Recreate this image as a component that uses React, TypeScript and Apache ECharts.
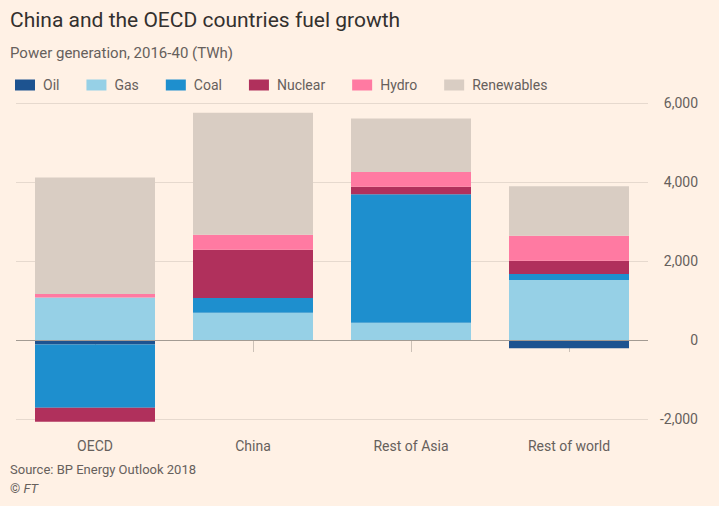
import React, { useEffect, useRef } from "react";
import * as echarts from "echarts";

const categories = ["OECD", "China", "Rest of Asia", "Rest of world"];
const seriesNames = ["Oil", "Gas", "Coal", "Nuclear", "Hydro", "Renewables"];
const oil = [-111, 0, -20, -209];
const gas = [1079, 691, 435, 1517];
const coal = [-1603, 372, 3255, 151];
const nuclear = [-354, 1223, 192, 337];
const hydro = [85, 380, 370, 637];
const renewables = [2950, 3088, 1358, 1250];
const colors = ["#1d5390", "#96d0e6", "#1e8fce", "#b0305c", "#ff7aa2", "#d9cdc3"];
const yTicks = { min: -2000, max: 6000, interval: 2000 };

const FONT = "Roboto, 'Noto Sans', sans-serif";

export default function App() {
  const ref = useRef<HTMLDivElement>(null);
  useEffect(() => {
    if (!ref.current) return;
    const chart = echarts.init(ref.current, undefined, { renderer: "svg" });
    const values = [oil, gas, coal, nuclear, hydro, renewables];
    const series: any[] = seriesNames.map((name, i) => ({
      name,
      type: "bar",
      stack: "total",
      barWidth: 120,
      clip: false,
      data: values[i],
      itemStyle: { color: colors[i] },
      emphasis: { disabled: true },
    }));
    series[series.length - 1].markLine = {
      silent: true,
      symbol: "none",
      label: { show: false },
      lineStyle: { color: "#a39b93", width: 1, type: "solid" },
      data: [{ yAxis: 0 }],
    };
    chart.setOption({
      animation: false,
      backgroundColor: "#fff1e5",
      textStyle: { fontFamily: FONT },
      graphic: [
        {
          type: "text",
          left: 10,
          top: 9,
          style: { text: "China and the OECD countries fuel growth", fontSize: 21, fill: "#33302e", fontFamily: FONT },
        },
        {
          type: "text",
          left: 10,
          top: 45,
          style: { text: "Power generation, 2016-40 (TWh)", fontSize: 15, fill: "#66605c", fontFamily: FONT },
        },
        {
          type: "text",
          left: 10,
          top: 463,
          style: { text: "Source: BP Energy Outlook 2018", fontSize: 13, fill: "#66605c", fontFamily: FONT },
        },
        {
          type: "text",
          left: 10,
          top: 482,
          style: {
            text: "© {i|FT}",
            fontSize: 13,
            fill: "#66605c",
            fontFamily: FONT,
            rich: { i: { fontStyle: "italic", fontSize: 13, fill: "#66605c", fontFamily: FONT } },
          },
        },
      ],
      legend: {
        left: 10,
        top: 73,
        itemWidth: 20,
        itemHeight: 11,
        itemGap: 27,
        icon: "rect",
        selectedMode: false,
        data: seriesNames,
        textStyle: { fontSize: 14, color: "#66605c", fontFamily: FONT, padding: [0, 0, 0, 3] },
      },
      grid: { left: 16, right: 71, top: 103, bottom: 87, containLabel: false },
      xAxis: {
        type: "category",
        data: categories,
        axisLine: { show: false },
        axisTick: { show: true, alignWithLabel: true, length: 12, lineStyle: { color: "#ccc1b7" } },
        axisLabel: { fontSize: 14, color: "#66605c", margin: 20, fontFamily: FONT },
      },
      yAxis: {
        type: "value",
        position: "right",
        min: yTicks.min,
        max: yTicks.max,
        interval: yTicks.interval,
        axisLine: { show: false },
        axisTick: { show: false },
        splitLine: { lineStyle: { color: "#e6d9ce" } },
        axisLabel: {
          align: "right",
          margin: 50,
          fontSize: 14,
          color: "#66605c",
          fontFamily: FONT,
          formatter: (v: number) => (v < 0 ? "-" : "") + Math.abs(v).toLocaleString("en-US"),
        },
      },
      series,
    });
    return () => chart.dispose();
  }, []);
  return <div ref={ref} style={{ width: 719, height: 506, position: "absolute", left: 0, top: 0 }} />;
}
